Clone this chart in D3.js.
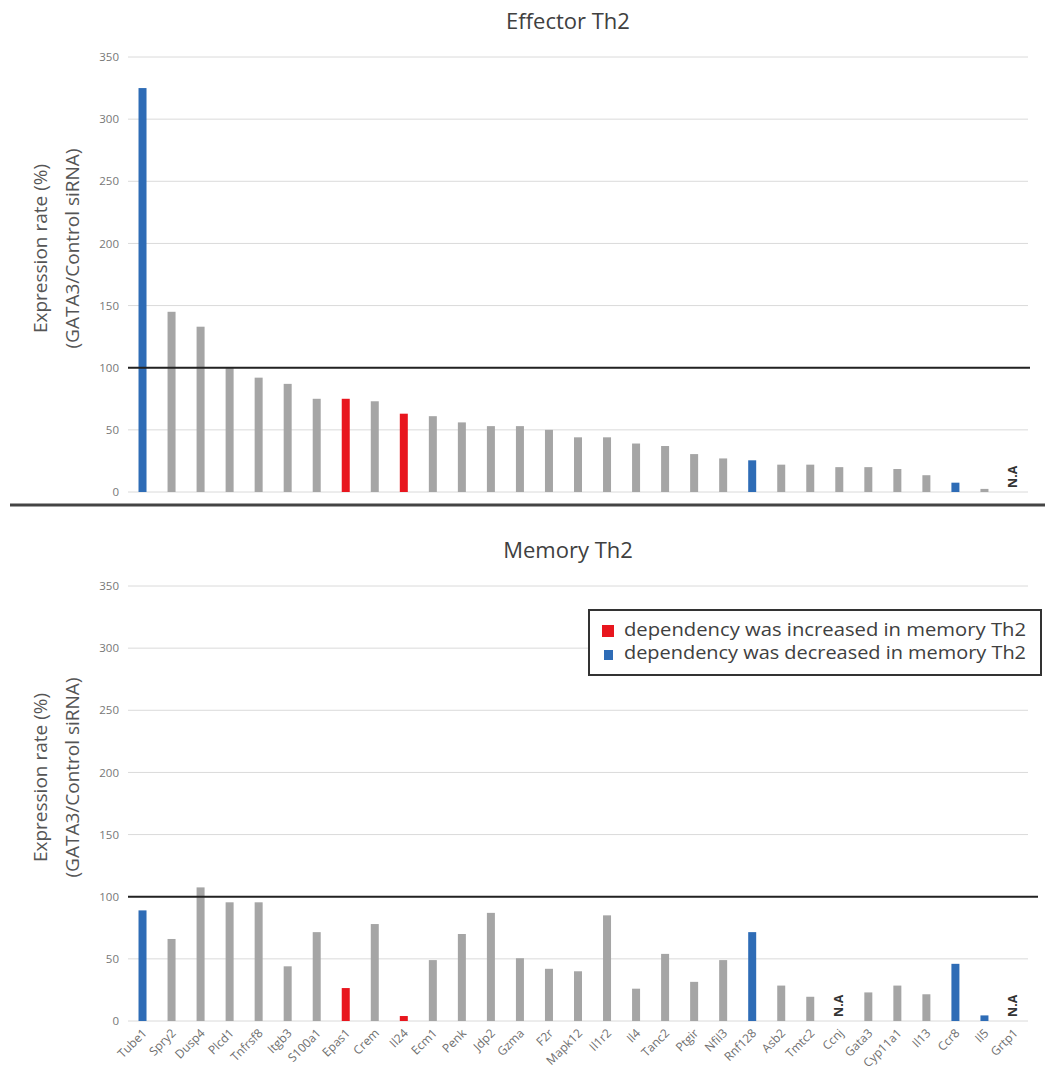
<!DOCTYPE html>
<html lang="en">
<head>
    <meta charset="UTF-8">
    <title>Effector / Memory Th2</title>
    <style>
        body { margin: 0; background: #fff; }
        text { font-family: "Open Sans", "Noto Sans", sans-serif; }
    </style>
</head>
<body>
    <script src="https://cdn.jsdelivr.net/npm/d3@7"></script>
    <script>
        // data
        var genes = ['Tube1', 'Spry2', 'Dusp4', 'Plcd1', 'Tnfrsf8', 'Itgb3', 'S100a1', 'Epas1', 'Crem', 'Il24',
            'Ecm1', 'Penk', 'Jdp2', 'Gzma', 'F2r', 'Mapk12', 'Il1r2', 'Il4', 'Tanc2', 'Ptgir', 'Nfil3',
            'Rnf128', 'Asb2', 'Tmtc2', 'Ccnj', 'Gata3', 'Cyp11a1', 'Il13', 'Ccr8', 'Il5', 'Grtp1'];
        // n = normal, up = increased dependency, down = decreased dependency
        var effectorGroup = ['down', 'n', 'n', 'n', 'n', 'n', 'n', 'up', 'n', 'up',
            'n', 'n', 'n', 'n', 'n', 'n', 'n', 'n', 'n', 'n', 'n',
            'down', 'n', 'n', 'n', 'n', 'n', 'n', 'down', 'n', 'n'];
        var memoryGroup = ['down', 'n', 'n', 'n', 'n', 'n', 'n', 'up', 'n', 'up',
            'n', 'n', 'n', 'n', 'n', 'n', 'n', 'n', 'n', 'n', 'n',
            'down', 'n', 'n', 'n', 'n', 'n', 'n', 'down', 'down', 'n'];
        var effector = [325, 145, 133, 100, 92, 87, 75, 75, 73, 63,
            61, 56, 53, 53, 50, 44, 44, 39, 37, 30.5, 27,
            25.5, 22, 22, 20, 20, 18.5, 13.5, 7.5, 2.5, null];
        var memory = [89, 66, 107.5, 95.5, 95.5, 44, 71.5, 26.5, 78, 4,
            49, 70, 87, 50.5, 42, 40, 85, 26, 54, 31.5, 49,
            71.5, 28.5, 19.5, null, 23, 28.5, 21.5, 46, 4.5, null];
        var yTicks = [0, 50, 100, 150, 200, 250, 300, 350];
        var legendLabels = ['dependency was increased in memory Th2', 'dependency was decreased in memory Th2'];

        var width = 1045, height = 1075;
        var colors = {n: '#a5a5a5', up: '#e8161e', down: '#2e6cb6'};

        var svg = d3.select('body').append('svg')
            .attr('width', width)
            .attr('height', height);

        var x = d3.scalePoint()
            .domain(genes)
            .range([128, 1028])
            .padding(0.5);

        function drawPanel(title, values, groups, top, bottom, lineEnd, showLabels) {
            var y = d3.scaleLinear().domain([0, 350]).range([bottom, top]);
            var g = svg.append('g');

            // grid lines
            g.selectAll('.grid')
                .data(yTicks)
                .enter()
                .append('line')
                .attr('x1', 128).attr('x2', 1028)
                .attr('y1', function(d) { return y(d); })
                .attr('y2', function(d) { return y(d); })
                .attr('stroke', '#dadada')
                .attr('stroke-width', 1);

            // y axis labels
            var axis = d3.axisLeft(y).tickValues(yTicks).tickSize(0);
            var ax = g.append('g').attr('transform', 'translate(119,0)').call(axis);
            ax.select('.domain').remove();
            ax.selectAll('text')
                .attr('x', 0)
                .style('font-family', '"Open Sans", sans-serif')
                .style('font-size', '11.5px')
                .attr('fill', '#777');

            // bars, N.A marks where there is no value
            values.forEach(function(v, i) {
                if (v === null) {
                    g.append('text')
                        .attr('transform', 'translate(' + (x(genes[i]) + 4) + ',' + (bottom - 4) + ') rotate(-90)')
                        .attr('font-size', '12.5px')
                        .attr('font-weight', 'bold')
                        .attr('fill', '#333')
                        .text('N.A');
                    return;
                }
                g.append('rect')
                    .attr('x', x(genes[i]) - 4)
                    .attr('width', 8)
                    .attr('y', y(v))
                    .attr('height', bottom - y(v))
                    .attr('fill', colors[groups[i]]);
            });

            // 100 % reference line
            g.append('line')
                .attr('x1', 128).attr('x2', lineEnd)
                .attr('y1', y(100)).attr('y2', y(100))
                .attr('stroke', '#222')
                .attr('stroke-width', 2);

            // title
            g.append('text')
                .attr('x', 568).attr('y', top - 28)
                .attr('text-anchor', 'middle')
                .attr('font-size', '22px')
                .attr('fill', '#404040')
                .text(title);

            // y axis title
            var cy = (top + bottom) / 2 - 26;
            g.append('text')
                .attr('transform', 'translate(47,' + cy + ') rotate(-90)')
                .attr('text-anchor', 'middle')
                .attr('font-size', '19px')
                .attr('fill', '#555')
                .text('Expression rate (%)');
            g.append('text')
                .attr('transform', 'translate(79,' + cy + ') rotate(-90)')
                .attr('text-anchor', 'middle')
                .attr('font-size', '19px')
                .attr('fill', '#555')
                .text('(GATA3/Control siRNA)');

            if (showLabels) {
                g.selectAll('.xlab')
                    .data(genes)
                    .enter()
                    .append('text')
                    .attr('transform', function(d) {
                        return 'translate(' + (x(d) + 5) + ',' + (bottom + 13) + ') rotate(-45)';
                    })
                    .attr('text-anchor', 'end')
                    .attr('font-size', '12px')
                    .attr('fill', '#6e6e6e')
                    .text(function(d) { return d; });
            }
        }

        drawPanel('Effector Th2', effector, effectorGroup, 57, 492, 1030, false);
        drawPanel('Memory Th2', memory, memoryGroup, 586, 1021, 1038, true);

        // separator between panels
        svg.append('line')
            .attr('x1', 10).attr('x2', 1045)
            .attr('y1', 505).attr('y2', 505)
            .attr('stroke', '#444')
            .attr('stroke-width', 3);

        // legend
        var legend = svg.append('g');
        legend.append('rect')
            .attr('x', 589).attr('y', 610)
            .attr('width', 452).attr('height', 65)
            .attr('fill', '#fff')
            .attr('stroke', '#333')
            .attr('stroke-width', 2);
        legendLabels.forEach(function(t, i) {
            legend.append('rect')
                .attr('x', i === 0 ? 602 : 604).attr('y', i === 0 ? 625 : 650)
                .attr('width', i === 0 ? 12 : 9).attr('height', i === 0 ? 12 : 10)
                .attr('fill', i === 0 ? colors.up : colors.down);
            legend.append('text')
                .attr('x', 624).attr('y', 636 + i * 23)
                .attr('font-size', '18px')
                .attr('textLength', 402)
                .attr('lengthAdjust', 'spacingAndGlyphs')
                .attr('fill', '#404040')
                .text(t);
        });
    </script>
</body>
</html>
